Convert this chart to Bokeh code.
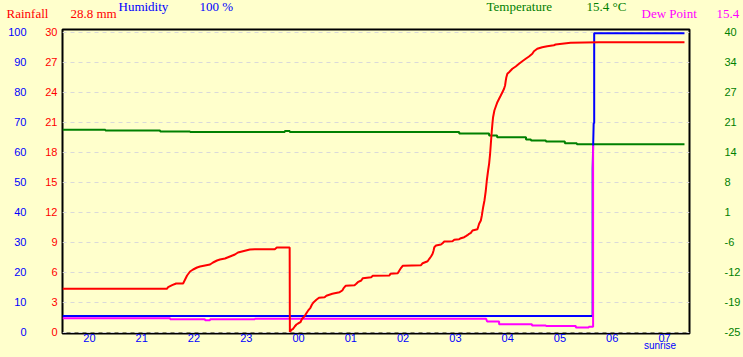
from bokeh.plotting import figure
from bokeh.models import Range1d, LinearAxis, FixedTicker
from bokeh.layouts import column, row
from bokeh.core.properties import value
from bokeh.embed import file_html
from bokeh.resources import INLINE

BG = "#FFFFCC"
RED = "#FF0000"
BLUE = "#0000FF"
GREEN = "#008000"
MAGENTA = "#FF00FF"

# ---------------- data (hours since previous midnight; 24+ = next day) ----------------
rain_hours = [19.485, 21.481, 21.506, 21.582, 21.659, 21.792, 21.830, 21.868, 21.925, 21.983,
              22.059, 22.116, 22.211, 22.307, 22.364, 22.440, 22.497, 22.593, 22.688, 22.783,
              22.841, 22.936, 23.069, 23.165, 23.546, 23.584, 23.830, 23.834, 23.864, 23.895,
              23.927, 23.960, 23.990, 24.036, 24.067, 24.099, 24.131, 24.162, 24.194, 24.227,
              24.257, 24.290, 24.341, 24.391, 24.499, 24.532, 24.646, 24.690, 24.785, 24.837,
              24.867, 24.900, 25.071, 25.104, 25.134, 25.199, 25.230, 25.390, 25.420, 25.739,
              25.758, 25.897, 25.929, 25.962, 25.992, 26.343, 26.374, 26.469, 26.501, 26.534,
              26.564, 26.583, 26.597, 26.629, 26.724, 26.755, 26.787, 26.945, 26.978, 27.073,
              27.106, 27.169, 27.201, 27.231, 27.264, 27.296, 27.327, 27.422, 27.454, 27.487,
              27.506, 27.531, 27.556, 27.582, 27.601, 27.626, 27.645, 27.664, 27.678, 27.697,
              27.708, 27.721, 27.746, 27.773, 27.803, 27.836, 27.868, 27.899, 27.931, 27.950,
              27.964, 27.975, 27.994, 28.026, 28.090, 28.154, 28.217, 28.280, 28.345, 28.408,
              28.471, 28.503, 28.566, 28.661, 28.757, 28.884, 28.917, 29.203, 29.742, 31.382]
rain_mm = [4.32, 4.32, 4.48, 4.68, 4.85, 4.85, 5.25, 5.65, 6.05, 6.25,
           6.45, 6.55, 6.65, 6.75, 6.95, 7.15, 7.25, 7.35, 7.55, 7.75,
           7.95, 8.08, 8.25, 8.28, 8.28, 8.45, 8.45, 0.0, 0.22, 0.32,
           0.55, 0.75, 0.85, 0.98, 1.32, 1.48, 1.72, 1.98, 2.22, 2.42,
           2.75, 2.98, 3.22, 3.42, 3.48, 3.62, 3.82, 3.88, 3.98, 4.15,
           4.42, 4.62, 4.68, 4.82, 4.98, 5.15, 5.38, 5.48, 5.62, 5.65,
           5.82, 5.88, 6.15, 6.42, 6.62, 6.68, 6.88, 7.08, 7.32, 7.55,
           7.82, 8.15, 8.48, 8.65, 8.75, 8.88, 9.05, 9.08, 9.22, 9.28,
           9.38, 9.48, 9.58, 9.68, 9.82, 9.92, 10.15, 10.28, 10.82, 11.15,
           11.65, 12.48, 13.15, 14.15, 15.15, 16.15, 16.82, 17.82, 18.82, 20.15,
           20.82, 21.48, 22.15, 22.55, 22.98, 23.32, 23.65, 23.98, 24.32, 24.65,
           25.15, 25.48, 25.82, 25.98, 26.32, 26.55, 26.82, 27.08, 27.32, 27.55,
           27.82, 28.08, 28.32, 28.48, 28.58, 28.68, 28.75, 28.92, 28.98, 28.98]

hum_hours = [19.485, 29.625, 29.625, 29.645, 29.655, 29.655, 31.382]
hum_pct = [5.3, 5.3, 54.5, 69.6, 69.6, 99.6, 99.6]

temp_hours = [19.485, 20.305, 20.305, 21.353, 21.353, 21.925, 21.925, 23.737, 23.737, 23.832,
              23.832, 27.073, 27.073, 27.645, 27.645, 27.798, 27.798, 28.351, 28.351, 28.446,
              28.446, 28.732, 28.732, 29.094, 29.094, 29.323, 29.323, 31.382]
temp_c = [18.81, 18.81, 18.66, 18.66, 18.44, 18.44, 18.33, 18.33, 18.55, 18.55,
          18.33, 18.33, 18.01, 18.01, 17.58, 17.58, 17.18, 17.18, 16.71, 16.71,
          16.49, 16.49, 16.28, 16.28, 15.91, 15.91, 15.69, 15.69]

dew_hours = [19.485, 21.544, 21.544, 22.211, 22.211, 22.307, 22.307, 23.165, 23.165, 27.588,
             27.607, 27.836, 27.836, 28.465, 28.465, 28.732, 28.732, 29.304, 29.304, 29.552,
             29.552, 29.634, 29.634]
dew_c = [-22.03, -22.03, -22.25, -22.25, -22.44, -22.44, -22.25, -22.25, -22.14, -22.14,
         -22.73, -22.73, -23.31, -23.31, -23.59, -23.59, -23.70, -23.70, -24.03, -24.03,
         -23.87, -23.87, 15.41]

hour_ticks = [20, 21, 22, 23, 24, 25, 26, 27, 28, 29, 30, 31]
hour_labels = ["20", "21", "22", "23", "00", "01", "02", "03", "04", "05", "06", "07"]
sunrise_tick = [30.915]
sunrise_label = ["sunrise"]
rain_ticks = [0, 3, 6, 9, 12, 15, 18, 21, 24, 27, 30]
hum_ticks = [0, 10, 20, 30, 40, 50, 60, 70, 80, 90, 100]
temp_ticks = [-25, -18.5, -12, -5.5, 1, 7.5, 14, 20.5, 27, 33.5, 40]
temp_labels = ["-25", "-19", "-12", "-6", "1", "8", "14", "21", "27", "34", "40"]

header_texts = ["Rainfall", "28.8 mm", "Humidity", "100 %",
                "Temperature", "15.4 \u00b0C", "Dew Point", "15.4"]
header_colors = [RED, RED, BLUE, BLUE, GREEN, GREEN, MAGENTA, MAGENTA]
header_x = [6, 70, 118, 199, 486, 586, 641, 716]      # layout (pixels)
header_y = [13, 13, 5.5, 5.5, 6, 6, 13, 13]           # baselines (pixels)

# ---------------- header strip ----------------
WIDTH = 743
HDR_H = 24
MAIN_H = 357 - HDR_H

hdr = figure(width=WIDTH, height=HDR_H, output_backend="svg", toolbar_location=None,
             x_range=Range1d(0, WIDTH), y_range=Range1d(HDR_H, 0),
             x_axis_type=None, y_axis_type=None, min_border=0,
             background_fill_color=BG, border_fill_color=BG, outline_line_color=None)
hdr.grid.visible = False
hdr.text(x=header_x, y=header_y, text=header_texts, text_color=header_colors,
         text_font=value("Liberation Serif"), text_font_size="13px",
         text_baseline="alphabetic", text_align="left")

# ---------------- main chart ----------------
p = figure(width=WIDTH, height=MAIN_H, output_backend="svg", toolbar_location=None,
           x_range=Range1d(19.485, 31.478), y_range=Range1d(-0.15, 30.25),
           min_border_left=62, min_border_right=52, min_border_top=5, min_border_bottom=24,
           background_fill_color=BG, border_fill_color=BG)
p.extra_y_ranges = {"hum": Range1d(-0.5, 100.8333), "temp": Range1d(-25.325, 40.5417)}
p.outline_line_color = "black"
p.outline_line_width = 2
p.xgrid.visible = False
p.ygrid.ticker = FixedTicker(ticks=rain_ticks)
p.ygrid.grid_line_color = "#D9D9D9"
p.ygrid.grid_line_dash = "4 4"


def style(ax, color, standoff, size="11px"):
    ax.axis_line_color = None
    ax.major_tick_line_color = None
    ax.minor_tick_line_color = None
    ax.major_tick_out = 0
    ax.major_tick_in = 0
    ax.minor_tick_out = 0
    ax.minor_tick_in = 0
    ax.major_label_text_color = color
    ax.major_label_text_font = "Liberation Sans"
    ax.major_label_text_font_size = size
    ax.major_label_standoff = standoff


xa = p.xaxis[0]
xa.ticker = FixedTicker(ticks=hour_ticks)
xa.major_label_overrides = {t: l for t, l in zip(hour_ticks, hour_labels)}
style(xa, BLUE, 0)

sa = LinearAxis(ticker=FixedTicker(ticks=sunrise_tick),
                major_label_overrides={t: l for t, l in zip(sunrise_tick, sunrise_label)})
style(sa, BLUE, -5, "10px")
p.add_layout(sa, "below")

ra = p.yaxis[0]
ra.ticker = FixedTicker(ticks=rain_ticks)
style(ra, RED, 5)

ha = LinearAxis(y_range_name="hum", ticker=FixedTicker(ticks=hum_ticks))
style(ha, BLUE, 16)
p.add_layout(ha, "left")

ta = LinearAxis(y_range_name="temp", ticker=FixedTicker(ticks=temp_ticks),
                major_label_overrides={t: l for t, l in zip(temp_ticks, temp_labels)})
style(ta, GREEN, 35)
p.add_layout(ta, "right")

p.line(temp_hours, temp_c, color=GREEN, line_width=2, y_range_name="temp")
p.line(hum_hours, hum_pct, color=BLUE, line_width=2, y_range_name="hum")
p.line(dew_hours, dew_c, color=MAGENTA, line_width=2, y_range_name="temp")
p.line(rain_hours, rain_mm, color=RED, line_width=2)

layout = column(row(hdr, spacing=0), p, spacing=0)
html = file_html(layout, INLINE)
html = html.replace("<head>", "<head><style>html,body{background:#FFFFCC;}</style>", 1)
open("out.html", "w").write(html)
